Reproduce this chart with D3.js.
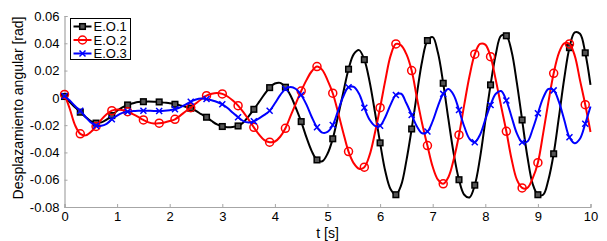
<!DOCTYPE html>
<html>
<head>
<meta charset="utf-8">
<script src="https://cdn.jsdelivr.net/npm/d3@7"></script>
<style>
  body { margin: 0; background: #fff; }
  svg { display: block; font-family: "Liberation Sans", Arial, sans-serif; }
</style>
</head>
<body>
<div id="chart"></div>
<script>
// time samples, every 0.1 s from 0 to 10
var time = d3.range(0, 101).map(function(i) { return i / 10; });

// E.O.1 (black, squares)
var eo1 = [
  0.001, -0.003, -0.007, -0.0105, -0.014, -0.017, -0.0185, -0.018, -0.016, -0.013,
  -0.0095, -0.007, -0.0052, -0.004, -0.003, -0.0028, -0.0027, -0.0028, -0.003, -0.0035,
  -0.004, -0.0047, -0.0055, -0.0065, -0.0076, -0.0095, -0.012, -0.0142, -0.017, -0.0195,
  -0.021, -0.0215, -0.0213, -0.0206, -0.018, -0.0135, -0.0084, -0.003, 0.0025, 0.0075,
  0.0105, 0.011, 0.0078, 0.0015, -0.0075, -0.0174, -0.029, -0.039, -0.0455, -0.0465,
  -0.041, -0.030, -0.0135, 0.004, 0.021, 0.032, 0.035, 0.028, 0.012, -0.010,
  -0.033, -0.054, -0.067, -0.071, -0.064, -0.046, -0.0228, 0.003, 0.027, 0.042,
  0.0445, 0.033, 0.0107, -0.016, -0.041, -0.060, -0.071, -0.073, -0.064, -0.044,
  -0.017, 0.0095, 0.032, 0.0455, 0.0455, 0.034, 0.011, -0.0162, -0.043, -0.063,
  -0.071, -0.071, -0.060, -0.041, -0.014, 0.014, 0.0368, 0.048, 0.047, 0.033,
  0.0095
];

// E.O.2 (red, circles)
var eo2 = [
  0.0025, -0.008, -0.020, -0.0264, -0.0275, -0.025, -0.021, -0.016, -0.012, -0.0094,
  -0.0085, -0.009, -0.0101, -0.012, -0.014, -0.0162, -0.018, -0.0188, -0.0186, -0.018,
  -0.017, -0.0157, -0.013, -0.010, -0.0072, -0.004, -0.001, 0.0016, 0.003, 0.0035,
  0.0029, 0.001, -0.002, -0.0057, -0.0105, -0.016, -0.0216, -0.027, -0.031, -0.0325,
  -0.032, -0.0285, -0.0223, -0.013, -0.004, 0.005, 0.013, 0.0195, 0.0229, 0.0205,
  0.013, 0.0034, -0.0105, -0.0255, -0.0394, -0.048, -0.052, -0.0508, -0.042, -0.026,
  -0.0072, 0.013, 0.031, 0.0395, 0.0385, 0.032, 0.020, 0.000, -0.019, -0.035,
  -0.0505, -0.060, -0.063, -0.058, -0.045, -0.0272, -0.005, 0.016, 0.032, 0.0395,
  0.039, 0.0302, 0.013, -0.006, -0.0245, -0.045, -0.060, -0.066, -0.066, -0.059,
  -0.0475, -0.026, -0.003, 0.018, 0.033, 0.040, 0.0395, 0.031, 0.013, -0.005,
  -0.025
];

// E.O.3 (blue, crosses)
var eo3 = [
  0.0014, -0.002, -0.006, -0.0095, -0.014, -0.018, -0.0205, -0.0205, -0.019, -0.0157,
  -0.013, -0.011, -0.0101, -0.0097, -0.0095, -0.0094, -0.0095, -0.0096, -0.0096, -0.0094,
  -0.009, -0.0084, -0.007, -0.005, -0.0028, -0.0012, -0.0005, -0.0008, -0.0018, -0.003,
  -0.0047, -0.0075, -0.011, -0.0142, -0.017, -0.018, -0.0172, -0.015, -0.0125, -0.0095,
  -0.004, 0.002, 0.0065, 0.008, 0.0065, 0.0021, -0.005, -0.014, -0.0216, -0.0255,
  -0.025, -0.0199, -0.0095, 0.001, 0.0078, 0.008, 0.003, -0.0072, -0.016, -0.0205,
  -0.0204, -0.014, -0.005, 0.0021, 0.003, -0.004, -0.0125, -0.021, -0.026, -0.0247,
  -0.017, -0.006, 0.0029, 0.0065, 0.002, -0.0089, -0.021, -0.030, -0.0325, -0.027,
  -0.016, -0.0052, 0.003, 0.005, -0.002, -0.014, -0.026, -0.0325, -0.032, -0.023,
  -0.0113, 0.000, 0.0065, 0.0055, -0.003, -0.016, -0.0289, -0.0333, -0.030, -0.019,
  -0.0064
];

var seriesNames = ["E.O.1", "E.O.2", "E.O.3"];
var xTicks = [0, 1, 2, 3, 4, 5, 6, 7, 8, 9, 10];
var yTicks = [-0.08, -0.06, -0.04, -0.02, 0, 0.02, 0.04, 0.06];
var yTickLabels = ["-0.08", "-0.06", "-0.04", "-0.02", "0", "0.02", "0.04", "0.06"];

var width = 607, height = 241;
var margin = { top: 16, right: 16.5, bottom: 34, left: 64.5 };

var svg = d3.select("#chart").append("svg")
    .attr("width", width)
    .attr("height", height);

var x = d3.scaleLinear().domain([0, 10]).range([margin.left, width - margin.right]);
var y = d3.scaleLinear().domain([-0.08, 0.06]).range([height - margin.bottom, margin.top]);

// axes, ticks pointing inside like matlab
var xAxis = d3.axisBottom(x).tickValues(xTicks).tickSize(-3).tickPadding(5).tickFormat(d3.format("d"));
var yAxis = d3.axisLeft(y).tickValues(yTicks).tickSize(-3).tickPadding(5)
    .tickFormat(function(d, i) { return yTickLabels[i]; });

var gx = svg.append("g")
    .attr("transform", "translate(0," + (height - margin.bottom) + ")")
    .call(xAxis);
var gy = svg.append("g")
    .attr("transform", "translate(" + margin.left + ",0)")
    .call(yAxis);

[gx, gy].forEach(function(g) {
  g.select(".domain").attr("stroke", "#a6a6a6").attr("stroke-width", 1.2);
  g.selectAll(".tick line").attr("stroke", "#a6a6a6");
  g.selectAll(".tick text").attr("fill", "#000").style("font-size", "13px");
});

// axis labels
svg.append("text")
    .attr("x", x(5))
    .attr("y", 238)
    .attr("text-anchor", "middle")
    .style("font-size", "14px")
    .text("t [s]");

svg.append("text")
    .attr("transform", "translate(23,108) rotate(-90)")
    .attr("text-anchor", "middle")
    .style("font-size", "14px")
    .text("Desplazamiento angular [rad]");

var colors = ["#000000", "#ff0000", "#0000ff"];
var allSeries = [eo1, eo2, eo3];

var line = d3.line()
    .x(function(d) { return x(d[0]); })
    .y(function(d) { return y(d[1]); })
    .curve(d3.curveCatmullRom.alpha(0.5));

function drawMarker(g, kind, color) {
  if (kind == 0) {
    g.append("rect").attr("x", -2.8).attr("y", -2.8).attr("width", 5.6).attr("height", 5.6)
      .attr("fill", "#555").attr("stroke", color).attr("stroke-width", 1.5);
  } else if (kind == 1) {
    g.append("circle").attr("r", 4).attr("fill", "none")
      .attr("stroke", color).attr("stroke-width", 1.5);
  } else {
    g.append("path").attr("d", "M-3,-3L3,3M-3,3L3,-3")
      .attr("fill", "none").attr("stroke", color).attr("stroke-width", 1.5);
  }
}

allSeries.forEach(function(vals, k) {
  var pts = time.map(function(t, i) { return [t, vals[i]]; });
  svg.append("path")
      .datum(pts)
      .attr("fill", "none")
      .attr("stroke", colors[k])
      .attr("stroke-width", 2)
      .attr("d", line);

  // markers every 0.3 s
  pts.filter(function(d, i) { return i % 3 == 0; }).forEach(function(d) {
    var g = svg.append("g").attr("transform", "translate(" + x(d[0]) + "," + y(d[1]) + ")");
    drawMarker(g, k, colors[k]);
  });
});

// legend
var legend = svg.append("g").attr("transform", "translate(70.5,18.5)");
legend.append("rect")
    .attr("width", 60).attr("height", 41)
    .attr("fill", "#fff").attr("stroke", "#000").attr("stroke-width", 1);

seriesNames.forEach(function(name, k) {
  var ly = 8 + k * 13.5;
  legend.append("line")
      .attr("x1", 3).attr("x2", 21).attr("y1", ly).attr("y2", ly)
      .attr("stroke", colors[k]).attr("stroke-width", 2);
  var g = legend.append("g").attr("transform", "translate(12," + ly + ")");
  drawMarker(g, k, colors[k]);
  legend.append("text")
      .attr("x", 23).attr("y", ly + 4.5)
      .style("font-size", "13px")
      .text(name);
});
</script>
</body>
</html>
